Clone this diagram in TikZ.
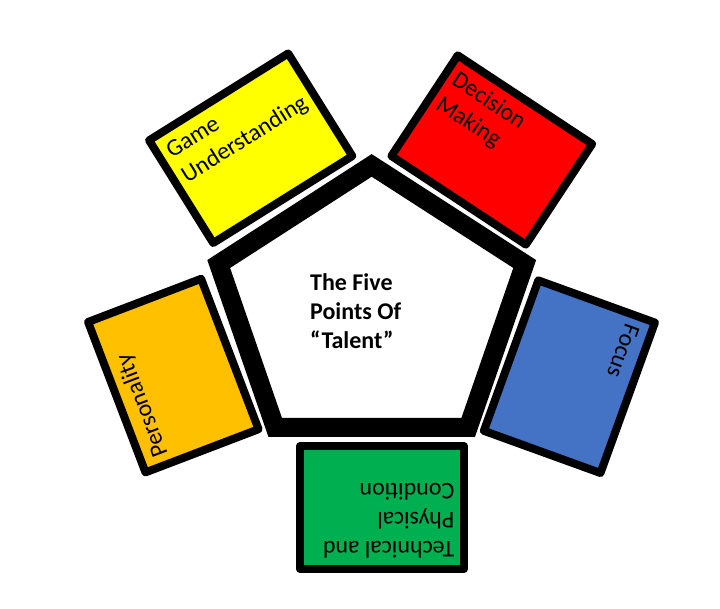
\documentclass[tikz,border=0pt]{standalone}
\usepackage{fontspec}
\setmainfont{Carlito}
\definecolor{cyellow}{HTML}{FFFF00}
\definecolor{cred}{HTML}{FF0000}
\definecolor{corange}{HTML}{FFC000}
\definecolor{cblue}{HTML}{4472C4}
\definecolor{cgreen}{HTML}{00B050}
\begin{document}
\begin{tikzpicture}[x=1pt,y=-1pt,
  card/.style={draw=black, line width=8pt, line join=round, inner sep=0pt},
  cardtext/.style={anchor=north west, inner sep=0pt, align=left, font=\fontsize{24}{29}\selectfont},
  pentaline/.style={draw=black, line width=19pt, line join=miter, fill=white}]
\useasboundingbox (0,0) rectangle (720,608);

% central pentagon
\coordinate (pt) at (371.7,165.4);
\coordinate (pr) at (524.7,264);
\coordinate (pbr) at (468.2,427.4);
\coordinate (pbl) at (275.2,427.4);
\coordinate (pl) at (218.7,264);
\draw[pentaline] (pt) -- (pr) -- (pbr) -- (pbl) -- (pl) -- cycle;
\node[cardtext, font=\bfseries\fontsize{24}{29}\selectfont] (title) at (310,272.5)
  {\rule{0pt}{18pt}The Five\\Points Of\\“Talent”};

% Game Understanding
\begin{scope}[shift={(250.7,148.2)}, rotate=32]
  \node[card, fill=cyellow, minimum width=164pt, minimum height=121pt, rotate=32] (gu) at (0,0) {};
  \node[cardtext, rotate=32] (gut) at (-72.5,-51) {\rule{0pt}{18pt}Game\\Understanding};
\end{scope}

% Decision Making
\begin{scope}[shift={(491.8,150)}, rotate=-33.4]
  \node[card, fill=cred, minimum width=161pt, minimum height=120.5pt, rotate=-33.4] (dm) at (0,0) {};
  \node[cardtext, rotate=-33.4] (dmt) at (-71,-50.75) {\rule{0pt}{18pt}Decision\\Making};
\end{scope}

% Personality
\begin{scope}[shift={(173.3,375.6)}, rotate=20.9]
  \node[card, fill=corange, minimum width=121pt, minimum height=161pt, rotate=20.9] (pe) at (0,0) {};
  \node[cardtext, rotate=110.9] (pet) at (-51,71) {\rule{0pt}{18pt}Personality};
\end{scope}

% Focus
\begin{scope}[shift={(569.4,376.7)}, rotate=-19.9]
  \node[card, fill=cblue, minimum width=124pt, minimum height=160pt, rotate=-19.9] (fo) at (0,0) {};
  \node[cardtext, rotate=-109.9] (fot) at (52.5,-70.5) {\rule{0pt}{18pt}Focus};
\end{scope}

% Technical and Physical Condition
\begin{scope}[shift={(382,507.5)}]
  \node[card, fill=cgreen, minimum width=164pt, minimum height=123pt] (tp) at (0,0) {};
  \node[cardtext, rotate=180] (tpt) at (72.5,52) {\rule{0pt}{18pt}Technical and\\Physical\\Condition};
\end{scope}
\end{tikzpicture}
\end{document}
